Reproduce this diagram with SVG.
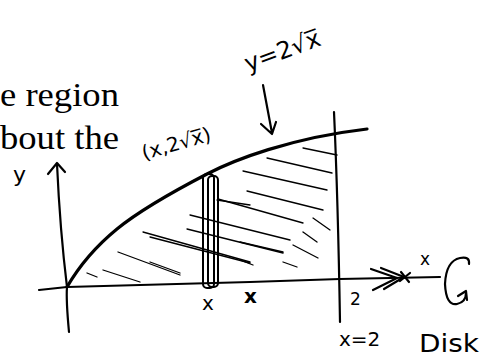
<svg xmlns="http://www.w3.org/2000/svg" width="485" height="357" viewBox="0 0 485 357">
<style>
.print{font-family:"Liberation Serif","DejaVu Serif",serif;font-size:34px;fill:#000}
.hand{font-family:"DejaVu Sans","Liberation Sans",sans-serif;fill:#000}
.ln{fill:none;stroke:#000;stroke-linecap:round;stroke-linejoin:round}
.axis{stroke-width:2.2}
.bold{stroke-width:3.2}
.hatch{stroke-width:1.3}
</style>
<rect width="485" height="357" fill="#fff"/>
<g id="printed-text">
<text class="print" x="0" y="106" textLength="119" lengthAdjust="spacingAndGlyphs">e region</text>
<text class="print" x="0" y="149" textLength="119" lengthAdjust="spacingAndGlyphs">bout the</text>
</g>
<g id="hatching" class="ln hatch">
<path d="M87,273 L97,277"/>
<path d="M103,270 L140,282"/>
<path d="M118,252 L180,275"/>
<path d="M143,232 L250,262"/>
<path d="M150,237 L250,263"/>
<path d="M150,262 L180,273"/>
<path d="M187,229 L283,253"/>
<path d="M190,215 L290,240"/>
<path d="M218,199 L303,223"/>
<path d="M217,200 L250,205"/>
<path d="M247,191 L323,210"/>
<path d="M243,171 L327,190"/>
<path d="M267,158 L332,173"/>
<path d="M303,148 L337,155"/>
<path d="M313,218 L330,230"/>
<path d="M293,245 L318,258"/>
<path d="M283,262 L297,267"/>
<path d="M303,232 L317,242"/>
<path d="M240,242 L283,252"/>
<path d="M240,260 L253,265"/>
</g>
<g id="connectors" class="ln">
<path class="axis" d="M69,332 Q66,300 67,287 Q60,230 57,164"/>
<path class="axis" d="M48,174 L57,163 L65,172"/>
<path class="axis" d="M39,290 L67,287 L250,282 L340,279 L440,277"/>
<path class="axis" d="M371,269 L397,278 L373,290 M381,268 L404,277 L384,289"/>
<path class="axis" d="M401,272 L409,282 M400,281 L410,273"/>
<path class="axis" d="M334,112 Q338,200 340,322"/>
<path class="bold" d="M67,287 C78,268 95,247 117,229 S180,188 207,174 S290,138 367,129"/>
<path class="axis" d="M263,85 L272,133 M261,124 L272,134 L276,122"/>
<path class="axis" d="M469,264 Q470,256 460,258 Q446,261 445,284 Q446,306 457,304 Q466,302 466,293 M458,296 L466,291 L467,300"/>
</g>
<g id="strip" class="ln" stroke-width="2">
<rect x="203" y="174" width="11" height="114" rx="4"/>
<rect x="208" y="176" width="10" height="111" rx="4"/>
</g>
<g id="labels">
<text class="hand" x="13" y="182" font-size="22">y</text>
<text class="hand" font-size="20" transform="translate(144,160) rotate(-16)">(x,2√x̅)</text>
<text class="hand" font-size="24" transform="translate(248,72) rotate(-20)">y=2√x̅</text>
<text class="hand" x="202" y="310" font-size="20">x</text>
<text class="hand" x="244" y="303" font-size="20" font-weight="bold">x</text>
<text class="hand" x="350" y="305" font-size="17">2</text>
<text class="hand" x="339" y="346" font-size="20">x=2</text>
<text class="hand" x="420" y="265" font-size="17">x</text>
<text class="hand" x="419" y="352" font-size="24" textLength="60" lengthAdjust="spacingAndGlyphs">Disk</text>
</g>
</svg>
